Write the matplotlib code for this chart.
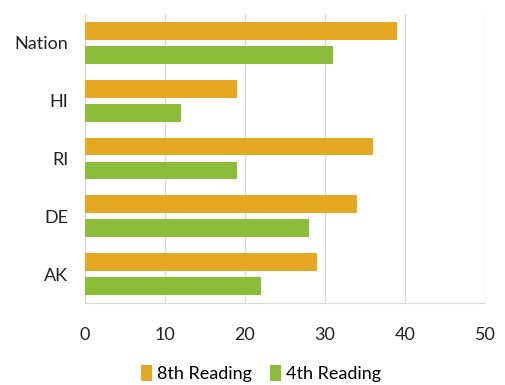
import matplotlib.pyplot as plt
import numpy as np

# data
states = ['Nation', 'HI', 'RI', 'DE', 'AK']
reading_8th = [39, 19, 36, 34, 29]
reading_4th = [31, 12, 19, 28, 22]
x_ticks = [0, 10, 20, 30, 40, 50]

plt.rcParams['font.family'] = ['Lato', 'DejaVu Sans']

fig = plt.figure(figsize=(5.05, 3.85), dpi=100)
ax = fig.add_axes([85 / 505, 1 - 303 / 385, 400 / 505, 289 / 385])

pos = np.arange(len(states))
h = 0.31
ax.barh(pos - 0.207, reading_8th, height=h, color='#E5A823', label='8th Reading', zorder=3)
ax.barh(pos + 0.207, reading_4th, height=h, color='#8BBC3A', label='4th Reading', zorder=3)

ax.set_xlim(0, 50)
ax.set_ylim(len(states) - 0.5, -0.5)
ax.set_yticks(pos)
ax.set_yticklabels(states)
ax.set_xticks(x_ticks)

ax.grid(axis='x', color='#d9d9d9', linewidth=1, zorder=0)
for s in ['top', 'right']:
    ax.spines[s].set_visible(False)
for s in ['left', 'bottom']:
    ax.spines[s].set_color('#d9d9d9')
ax.tick_params(length=0, labelsize=13, colors='#222222')
ax.tick_params(axis='y', pad=12)
ax.tick_params(axis='x', pad=17)

fig.legend(loc='upper center', bbox_to_anchor=(261 / 505, 0.052), ncol=2, frameon=False,
           fontsize=13, handlelength=0.6, handleheight=1.0, handletextpad=0.3,
           columnspacing=1.0, borderaxespad=0, borderpad=0)

fig.savefig('out.png', dpi=100)
